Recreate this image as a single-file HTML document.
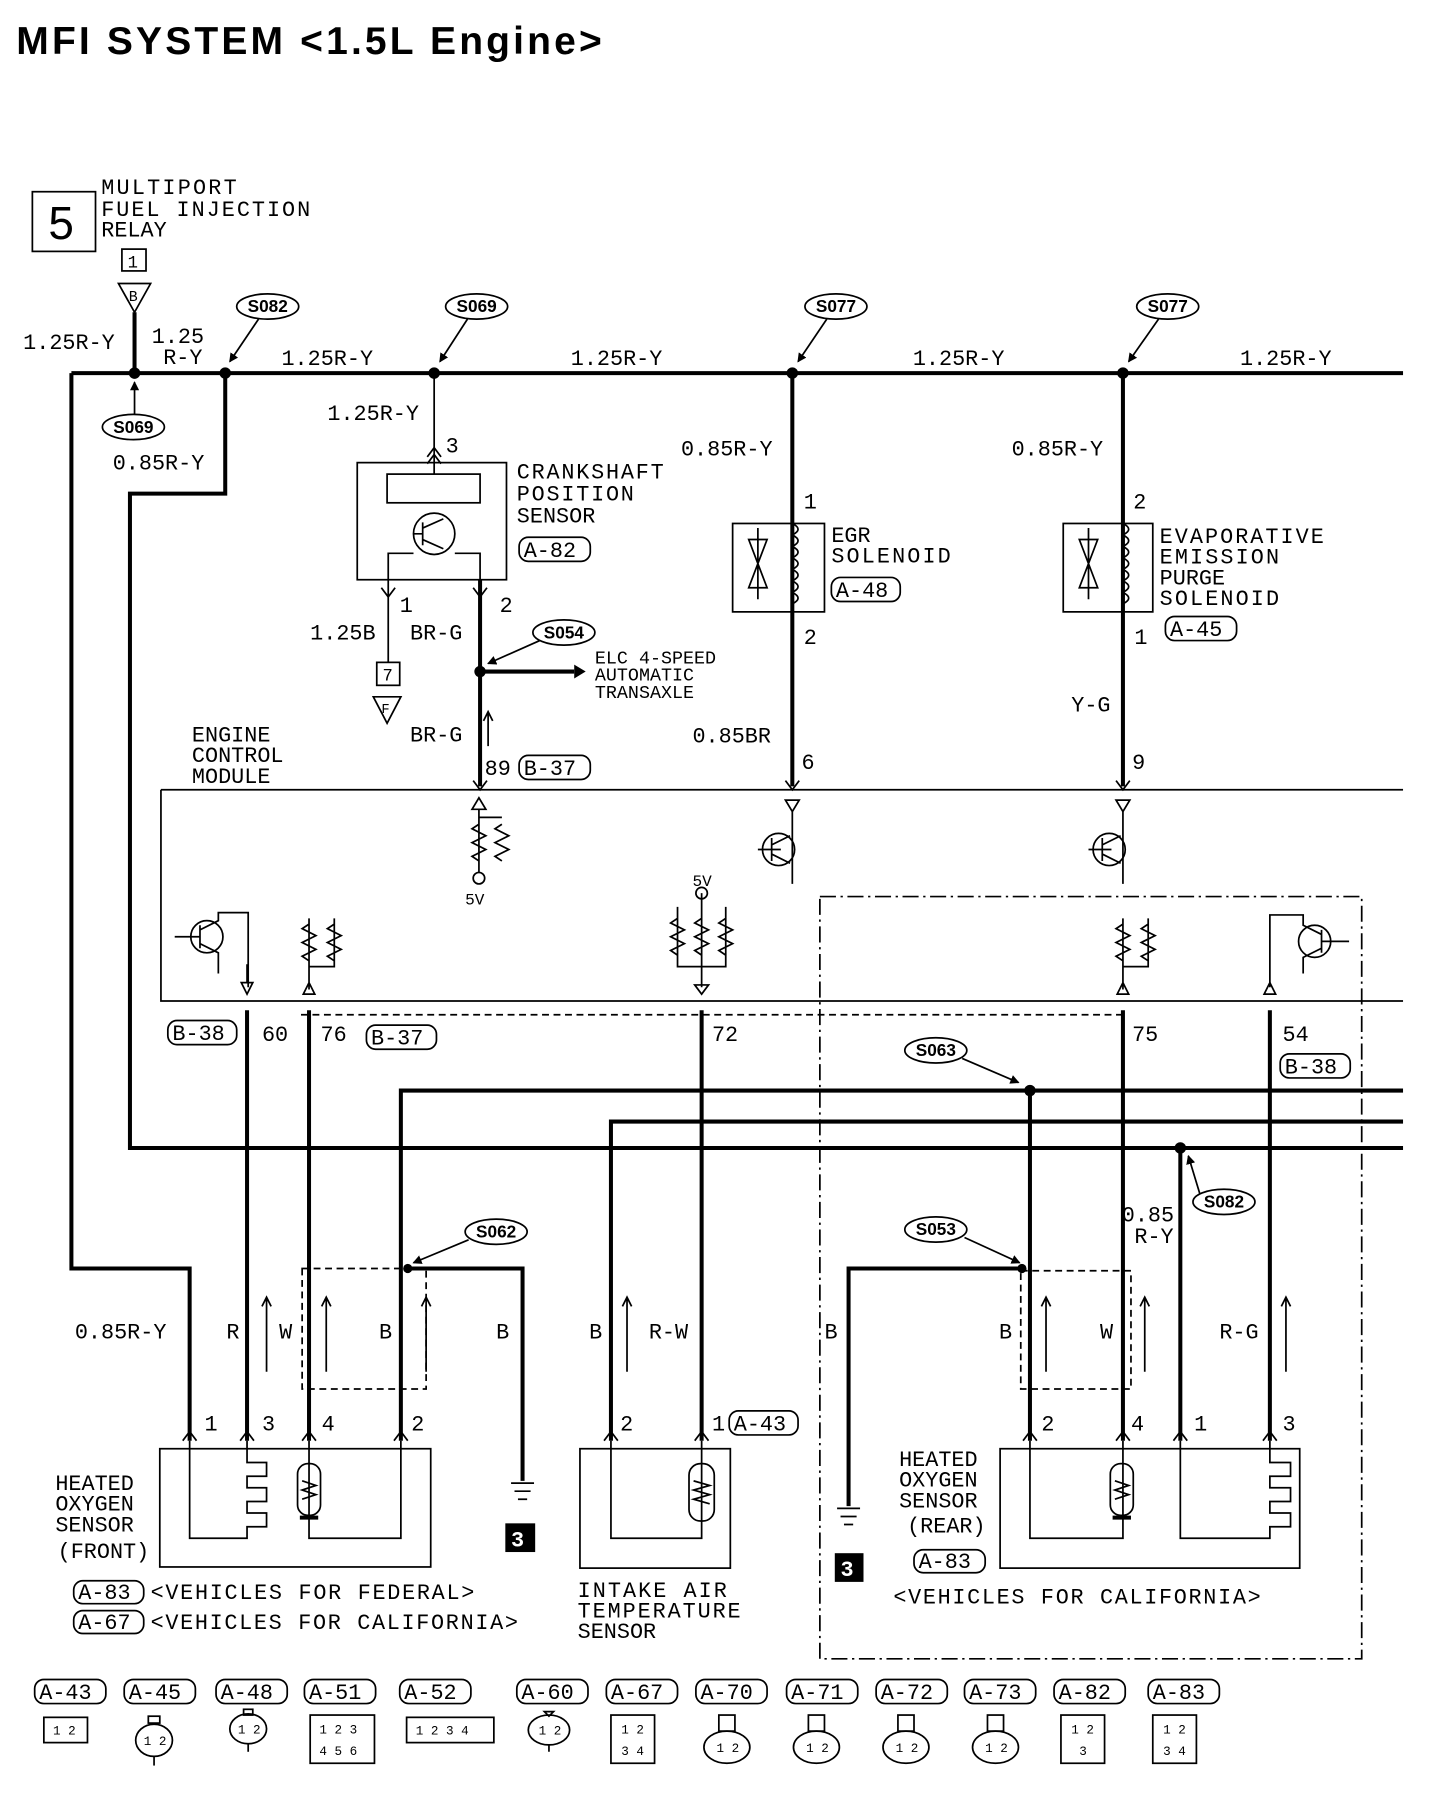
<!DOCTYPE html>
<html><head><meta charset="utf-8"><style>
html,body{margin:0;padding:0;background:#fff;}
svg{display:block}
text{font-family:"Liberation Mono",monospace;font-size:19px;fill:#000}
.t{font-family:"Liberation Sans",sans-serif;font-weight:bold;font-size:34px}
.th{stroke:#000;stroke-width:3.5;fill:none}
.tn{stroke:#000;stroke-width:1.5;fill:none}
.ds{stroke:#000;stroke-width:1.5;fill:none;stroke-dasharray:6 4}
.dd{stroke:#000;stroke-width:1.5;fill:none;stroke-dasharray:14 4 2 4}
.sp{font-family:"Liberation Sans",sans-serif;font-weight:bold;font-size:15px}
.pn text{font-size:11px}
</style></head><body>
<svg width="1440" height="1800" viewBox="0 0 1254 1568" xmlns="http://www.w3.org/2000/svg">
<defs><marker id="ah" markerWidth="8" markerHeight="8" refX="7" refY="4" orient="auto" markerUnits="userSpaceOnUse"><path d="M0 0 L8 4 L0 8 Z" fill="#000"/></marker></defs>
<text x="14" y="47" class="t" textLength="510" lengthAdjust="spacing">MFI SYSTEM &lt;1.5L Engine&gt;</text>
<rect x="28" y="167" width="55" height="52" class="tn" stroke-width="3"/>
<text x="42" y="208" style="font-size:40px;font-family:'Liberation Sans',sans-serif">5</text>
<text x="88" y="169" textLength="118">MULTIPORT</text><text x="88" y="188" textLength="182">FUEL INJECTION</text><text x="88" y="206">RELAY</text>
<rect x="106" y="217" width="21" height="19" class="tn" stroke-width="2"/><text x="111" y="233" style="font-size:15px">1</text>
<path d="M103 247 L131 247 L117 272 Z" class="tn" stroke-width="2"/><text x="112" y="262" style="font-size:13px">B</text>
<path d="M117 272 V325 M62 325 H1222 M62 325 V1105 H165 V1255" class="th"/>
<path d="M196 325 V430 H113 V1000 H1222 M349 1255 V950 H1222 M532 1255 V977 H1222" class="th"/>
<g fill="#000"><circle cx="117" cy="325" r="5"/><circle cx="196" cy="325" r="5"/><circle cx="378" cy="325" r="5"/><circle cx="690" cy="325" r="5"/><circle cx="978" cy="325" r="5"/><circle cx="418" cy="585" r="5"/><circle cx="897" cy="950" r="5"/><circle cx="1028" cy="1000" r="5"/><circle cx="355" cy="1105" r="4"/><circle cx="890" cy="1105" r="4"/></g>
<g>
<ellipse cx="233" cy="267" rx="27" ry="11" class="tn" stroke-width="2"/><text x="233" y="272" class="sp" text-anchor="middle">S082</text><path d="M225 278 L200 315" class="tn" marker-end="url(#ah)"/>
<ellipse cx="415" cy="267" rx="27" ry="11" class="tn" stroke-width="2"/><text x="415" y="272" class="sp" text-anchor="middle">S069</text><path d="M407 278 L383 315" class="tn" marker-end="url(#ah)"/>
<ellipse cx="728" cy="267" rx="27" ry="11" class="tn" stroke-width="2"/><text x="728" y="272" class="sp" text-anchor="middle">S077</text><path d="M720 278 L695 315" class="tn" marker-end="url(#ah)"/>
<ellipse cx="1017" cy="267" rx="27" ry="11" class="tn" stroke-width="2"/><text x="1017" y="272" class="sp" text-anchor="middle">S077</text><path d="M1009 278 L983 315" class="tn" marker-end="url(#ah)"/>
<ellipse cx="116" cy="372" rx="27" ry="11" class="tn" stroke-width="2"/><text x="116" y="377" class="sp" text-anchor="middle">S069</text><path d="M117 361 V333" class="tn" marker-end="url(#ah)"/>
<ellipse cx="491" cy="551" rx="27" ry="11" class="tn" stroke-width="2"/><text x="491" y="556" class="sp" text-anchor="middle">S054</text><path d="M470 558 L425 578" class="tn" marker-end="url(#ah)"/>
<ellipse cx="815" cy="915" rx="27" ry="11" class="tn" stroke-width="2"/><text x="815" y="920" class="sp" text-anchor="middle">S063</text><path d="M838 922 L887 943" class="tn" marker-end="url(#ah)"/>
<ellipse cx="1066" cy="1047" rx="27" ry="11" class="tn" stroke-width="2"/><text x="1066" y="1052" class="sp" text-anchor="middle">S082</text><path d="M1045 1040 L1035 1007" class="tn" marker-end="url(#ah)"/>
<ellipse cx="432" cy="1073" rx="27" ry="11" class="tn" stroke-width="2"/><text x="432" y="1078" class="sp" text-anchor="middle">S062</text><path d="M408 1080 L360 1100" class="tn" marker-end="url(#ah)"/>
<ellipse cx="815" cy="1071" rx="27" ry="11" class="tn" stroke-width="2"/><text x="815" y="1076" class="sp" text-anchor="middle">S053</text><path d="M840 1078 L888 1100" class="tn" marker-end="url(#ah)"/>
</g>
<text x="20" y="304">1.25R-Y</text><text x="132" y="299">1.25</text><text x="142" y="317">R-Y</text>
<text x="245" y="318">1.25R-Y</text><text x="497" y="318">1.25R-Y</text><text x="795" y="318">1.25R-Y</text><text x="1080" y="318">1.25R-Y</text>
<text x="98" y="409">0.85R-Y</text>
<path d="M378 325 V413" class="tn" stroke-width="2"/>
<text x="285" y="366">1.25R-Y</text><text x="388" y="394">3</text>
<path d="M372 398 L378 390 L384 398 M372 404 L378 396 L384 404" class="tn"/>
<rect x="311" y="403" width="130" height="102" class="tn"/>
<rect x="337" y="413" width="81" height="25" class="tn"/>
<circle cx="378" cy="465" r="18" class="tn"/>
<path d="M368 455 V475 M368 465 H360 M368 460 L386 452 M368 470 L386 478 M338 505 V482 H360 M418 505 V482 H396" class="tn"/>
<text x="450" y="417" textLength="128">CRANKSHAFT</text><text x="450" y="436" textLength="102">POSITION</text><text x="450" y="455">SENSOR</text>
<rect x="452" y="468" width="62" height="21" rx="8" class="tn"/><text x="456" y="485">A-82</text>
<path d="M338 505 V577" class="tn" stroke-width="2"/><path d="M418 505 V685 M418 585 H500" class="th"/>
<path d="M500 579 L510 585 L500 591 Z" fill="#000"/>
<path d="M332 512 L338 520 L344 512 M412 512 L418 520 L424 512" class="tn"/>
<text x="348" y="533">1</text><text x="435" y="533">2</text>
<text x="270" y="557">1.25B</text><text x="357" y="557">BR-G</text>
<rect x="328" y="577" width="20" height="20" class="tn" stroke-width="2"/><text x="333" y="593" style="font-size:15px">7</text>
<path d="M325 607 L349 607 L337 630 Z" class="tn" stroke-width="2"/><text x="332" y="621" style="font-size:12px">F</text>
<text x="518" y="578" style="font-size:16px">ELC 4-SPEED</text><text x="518" y="593" style="font-size:16px">AUTOMATIC</text><text x="518" y="608" style="font-size:16px">TRANSAXLE</text>
<text x="357" y="646">BR-G</text><path d="M425 650 V620 M421 628 L425 620 L429 628" class="tn"/>
<text x="422" y="675">89</text><rect x="452" y="658" width="62" height="21" rx="8" class="tn"/><text x="456" y="675">B-37</text>
<path d="M690 325 V685 M978 325 V685" class="th"/>
<text x="593" y="397">0.85R-Y</text><text x="700" y="443">1</text>
<rect x="638" y="456" width="80" height="77" class="tn" fill="#fff"/>
<path d="M690 456 q10 5 0 10 q10 5 0 10 q10 5 0 10 q10 5 0 10 q10 5 0 10 q10 5 0 10 q10 5 0 10 V533 M690 456 V533" class="tn"/>
<path d="M652 470 L668 470 L652 512 L668 512 Z M660 460 V522" class="tn"/>
<text x="724" y="472">EGR</text><text x="724" y="490" textLength="104">SOLENOID</text>
<rect x="724" y="503" width="60" height="21" rx="8" class="tn"/><text x="728" y="520">A-48</text>
<text x="700" y="561">2</text><text x="603" y="647">0.85BR</text><text x="698" y="670">6</text>
<text x="881" y="397">0.85R-Y</text><text x="987" y="443">2</text>
<rect x="926" y="456" width="78" height="77" class="tn" fill="#fff"/>
<path d="M978 456 q10 5 0 10 q10 5 0 10 q10 5 0 10 q10 5 0 10 q10 5 0 10 q10 5 0 10 q10 5 0 10" class="tn"/>
<path d="M940 470 L956 470 L940 512 L956 512 Z M948 460 V522" class="tn"/>
<text x="1010" y="473" textLength="143">EVAPORATIVE</text><text x="1010" y="491" textLength="104">EMISSION</text><text x="1010" y="509">PURGE</text><text x="1010" y="527" textLength="104">SOLENOID</text>
<rect x="1015" y="537" width="62" height="21" rx="8" class="tn"/><text x="1019" y="554">A-45</text>
<text x="988" y="561">1</text><text x="933" y="620">Y-G</text><text x="986" y="670">9</text>
<text x="167" y="646">ENGINE</text><text x="167" y="664">CONTROL</text><text x="167" y="682">MODULE</text>
<path d="M140 688 H1222 M140 688 V872 H1222" class="tn" stroke-width="2"/>
<path d="M262 884 H978" class="ds"/>
<path d="M714 781 H1186 V1445 H714 Z" class="dd"/>
<path d="M412 680 L418 688 L424 680 M684 680 L690 688 L696 680 M972 680 L978 688 L984 680" class="tn"/>
<g class="tn">
<path d="M411 705 L417 695 L423 705 Z M417 705 V760 M417 712 H437 M417 718 l-6 4 l12 6 l-12 6 l12 6 l-12 6 l6 4 M437 718 l-6 4 l12 6 l-12 6 l12 6 l-12 6 l6 4"/>
<circle cx="417" cy="765" r="5"/>
<path d="M684 697 L696 697 L690 707 Z M690 707 V770 M680 740 H660"/><circle cx="678" cy="740" r="14"/>
<path d="M672 730 V750 M672 736 L688 728 M672 744 L688 752"/>
<path d="M972 697 L984 697 L978 707 Z M978 707 V770 M968 740 H948"/><circle cx="966" cy="740" r="14"/>
<path d="M960 730 V750 M960 736 L976 728 M960 744 L976 752"/>
<path d="M611 778 V860 M590 790 V842 H632 V790 M590 800 l-6 4 l12 6 l-12 6 l12 6 l-12 6 l6 4 M611 800 l-6 4 l12 6 l-12 6 l12 6 l-12 6 l6 4 M632 800 l-6 4 l12 6 l-12 6 l12 6 l-12 6 l6 4 M605 858 L617 858 L611 866 Z"/>
<circle cx="611" cy="778" r="5"/>
<path d="M269 800 V862 M269 842 H291 V800 M269 805 l-6 4 l12 6 l-12 6 l12 6 l-12 6 l6 4 M291 805 l-6 4 l12 6 l-12 6 l12 6 l-12 6 l6 4 M264 866 L269 856 L274 866 Z"/>
<path d="M978 800 V862 M978 842 H1000 V800 M978 805 l-6 4 l12 6 l-12 6 l12 6 l-12 6 l6 4 M1000 805 l-6 4 l12 6 l-12 6 l12 6 l-12 6 l6 4 M973 866 L978 856 L983 866 Z"/>
<circle cx="180" cy="816" r="14"/><path d="M174 806 V826 M174 816 H152 M174 810 L190 802 V795 H216 V860 M174 822 L190 830 V848"/>
<path d="M215 866 L210 856 L220 856 Z M215 856 V840"/>
<circle cx="1145" cy="820" r="14"/><path d="M1151 810 V830 M1151 820 H1175 M1151 814 L1135 806 V797 H1106 V860 M1151 826 L1135 834 V848"/>
<path d="M1101 866 L1106 856 L1111 866 Z"/>
</g>
<text x="405" y="788" style="font-size:14px">5V</text><text x="603" y="772" style="font-size:14px">5V</text>
<path d="M215 880 V1255 M269 880 V1255 M611 880 V1255 M978 880 V1255 M1106 880 V1255 M897 950 V1255 M1028 1000 V1255" class="th"/>
<path d="M355 1105 H455 V1290 M890 1105 H739 V1312" class="th"/>
<rect x="146" y="889" width="60" height="21" rx="8" class="tn"/><text x="150" y="906">B-38</text>
<text x="228" y="907">60</text><text x="279" y="907">76</text>
<rect x="319" y="893" width="61" height="21" rx="8" class="tn"/><text x="323" y="910">B-37</text>
<text x="620" y="907">72</text><text x="986" y="907">75</text><text x="1117" y="907">54</text>
<rect x="1115" y="918" width="61" height="21" rx="8" class="tn"/><text x="1119" y="935">B-38</text>
<text x="977" y="1064">0.85</text><text x="988" y="1083">R-Y</text>
<path d="M263 1105 H371 V1210 H263 Z M889 1107 H985 V1210 H889 Z" class="ds"/>
<text x="65" y="1166">0.85R-Y</text><text x="197" y="1166">R</text><text x="243" y="1166">W</text><text x="330" y="1166">B</text><text x="432" y="1166">B</text>
<text x="513" y="1166">B</text><text x="565" y="1166">R-W</text><text x="718" y="1166">B</text><text x="870" y="1166">B</text><text x="958" y="1166">W</text><text x="1062" y="1166">R-G</text>
<path d="M232 1195 V1130 M284 1195 V1130 M371 1195 V1130 M546 1195 V1130 M911 1195 V1130 M997 1195 V1130 M1120 1195 V1130 M228 1138 L232 1130 L236 1138 M280 1138 L284 1130 L288 1138 M367 1138 L371 1130 L375 1138 M542 1138 L546 1130 L550 1138 M907 1138 L911 1130 L915 1138 M993 1138 L997 1130 L1001 1138 M1116 1138 L1120 1130 L1124 1138" class="tn"/>
<text x="178" y="1246">1</text><text x="228" y="1246">3</text><text x="280" y="1246">4</text><text x="358" y="1246">2</text>
<text x="540" y="1246">2</text><text x="620" y="1246">1</text><rect x="635" y="1229" width="60" height="21" rx="8" class="tn"/><text x="639" y="1246">A-43</text>
<text x="907" y="1246">2</text><text x="985" y="1246">4</text><text x="1040" y="1246">1</text><text x="1117" y="1246">3</text>
<rect x="139" y="1262" width="236" height="103" class="tn"/>
<path d="M165 1255 V1340 H215 V1330 H232 V1318 H215 V1308 H232 V1296 H215 V1286 H232 V1274 H215 V1255 M269 1255 V1340 H349 V1255" class="tn" stroke-width="2"/>
<rect x="259" y="1275" width="20" height="45" rx="9" class="tn" fill="#fff"/><path d="M263 1290 l12 4 l-12 4 l12 4 l-12 4" class="tn"/><path d="M261 1322 H277" class="th"/>
<text x="48" y="1298">HEATED</text><text x="48" y="1316">OXYGEN</text><text x="48" y="1334">SENSOR</text><text x="50" y="1357">(FRONT)</text>
<rect x="64" y="1377" width="61" height="20" rx="8" class="tn"/><text x="68" y="1393">A-83</text><text x="131" y="1393" textLength="282">&lt;VEHICLES FOR FEDERAL&gt;</text>
<rect x="64" y="1403" width="61" height="20" rx="8" class="tn"/><text x="68" y="1419">A-67</text><text x="131" y="1419" textLength="320">&lt;VEHICLES FOR CALIFORNIA&gt;</text>
<path d="M445 1292 H465 M448 1299 H462 M451 1306 H459" class="tn"/>
<rect x="440" y="1327" width="26" height="25" fill="#000"/><text x="445" y="1347" style="fill:#fff;font-weight:bold">3</text>
<rect x="505" y="1262" width="131" height="104" class="tn"/>
<path d="M532 1255 V1340 H611 V1255" class="tn" stroke-width="2"/>
<rect x="600" y="1275" width="22" height="50" rx="10" class="tn" fill="#fff"/><path d="M604 1290 l14 4 l-14 4 l14 4 l-14 4 l14 4" class="tn"/>
<text x="503" y="1391" textLength="130">INTAKE AIR</text><text x="503" y="1409" textLength="142">TEMPERATURE</text><text x="503" y="1427">SENSOR</text>
<path d="M729 1314 H749 M732 1321 H746 M735 1328 H743" class="tn"/>
<rect x="727" y="1353" width="25" height="25" fill="#000"/><text x="732" y="1373" style="fill:#fff;font-weight:bold">3</text>
<rect x="871" y="1262" width="261" height="104" class="tn"/>
<path d="M897 1255 V1340 H978 V1255 M1028 1255 V1340 H1106 V1330 H1124 V1318 H1106 V1308 H1124 V1296 H1106 V1286 H1124 V1274 H1106 V1255" class="tn" stroke-width="2"/>
<rect x="967" y="1275" width="20" height="45" rx="9" class="tn" fill="#fff"/><path d="M971 1290 l12 4 l-12 4 l12 4 l-12 4" class="tn"/><path d="M969 1322 H985" class="th"/>
<text x="783" y="1277">HEATED</text><text x="783" y="1295">OXYGEN</text><text x="783" y="1313">SENSOR</text><text x="790" y="1335">(REAR)</text>
<rect x="796" y="1350" width="62" height="20" rx="8" class="tn"/><text x="800" y="1366">A-83</text>
<text x="778" y="1397" textLength="320">&lt;VEHICLES FOR CALIFORNIA&gt;</text>
<path d="M159 1255 L165 1247 L171 1255 M209 1255 L215 1247 L221 1255 M263 1255 L269 1247 L275 1255 M343 1255 L349 1247 L355 1255 M526 1255 L532 1247 L538 1255 M605 1255 L611 1247 L617 1255 M891 1255 L897 1247 L903 1255 M972 1255 L978 1247 L984 1255 M1022 1255 L1028 1247 L1034 1255 M1100 1255 L1106 1247 L1112 1255" class="tn"/>
<g>
<rect x="30" y="1463" width="62" height="21" rx="8" class="tn"/><text x="34" y="1480">A-43</text>
<rect x="108" y="1463" width="62" height="21" rx="8" class="tn"/><text x="112" y="1480">A-45</text>
<rect x="188" y="1463" width="62" height="21" rx="8" class="tn"/><text x="192" y="1480">A-48</text>
<rect x="265" y="1463" width="62" height="21" rx="8" class="tn"/><text x="269" y="1480">A-51</text>
<rect x="348" y="1463" width="62" height="21" rx="8" class="tn"/><text x="352" y="1480">A-52</text>
<rect x="450" y="1463" width="62" height="21" rx="8" class="tn"/><text x="454" y="1480">A-60</text>
<rect x="528" y="1463" width="62" height="21" rx="8" class="tn"/><text x="532" y="1480">A-67</text>
<rect x="606" y="1463" width="62" height="21" rx="8" class="tn"/><text x="610" y="1480">A-70</text>
<rect x="685" y="1463" width="62" height="21" rx="8" class="tn"/><text x="689" y="1480">A-71</text>
<rect x="763" y="1463" width="62" height="21" rx="8" class="tn"/><text x="767" y="1480">A-72</text>
<rect x="840" y="1463" width="62" height="21" rx="8" class="tn"/><text x="844" y="1480">A-73</text>
<rect x="918" y="1463" width="62" height="21" rx="8" class="tn"/><text x="922" y="1480">A-82</text>
<rect x="1000" y="1463" width="62" height="21" rx="8" class="tn"/><text x="1004" y="1480">A-83</text>
</g>
<g class="tn" stroke-width="2">
<rect x="38" y="1496" width="38" height="22"/>
<ellipse cx="134" cy="1516" rx="16" ry="14"/><rect x="129" y="1495" width="10" height="6"/><path d="M134 1530 V1538"/>
<ellipse cx="216" cy="1506" rx="16" ry="13"/><rect x="212" y="1489" width="8" height="5"/><path d="M216 1519 V1526"/>
<rect x="270" y="1494" width="56" height="42"/>
<rect x="354" y="1496" width="76" height="22"/>
<ellipse cx="478" cy="1507" rx="18" ry="13"/><path d="M474 1491 L482 1491 L478 1495 Z M478 1520 V1526"/>
<rect x="532" y="1494" width="38" height="42"/>
<rect x="626" y="1494" width="14" height="14"/><ellipse cx="633" cy="1522" rx="20" ry="14"/>
<rect x="704" y="1494" width="14" height="14"/><ellipse cx="711" cy="1522" rx="20" ry="14"/>
<rect x="782" y="1494" width="14" height="14"/><ellipse cx="789" cy="1522" rx="20" ry="14"/>
<rect x="860" y="1494" width="14" height="14"/><ellipse cx="867" cy="1522" rx="20" ry="14"/>
<rect x="924" y="1494" width="38" height="42"/>
<rect x="1004" y="1494" width="38" height="42"/>
</g>
<g class="pn">
<text x="46" y="1511">1 2</text><text x="125" y="1520">1 2</text><text x="207" y="1510">1 2</text>
<text x="278" y="1510">1 2 3</text><text x="278" y="1529">4 5 6</text><text x="362" y="1511">1 2 3 4</text>
<text x="469" y="1511">1 2</text><text x="541" y="1510">1 2</text><text x="541" y="1529">3 4</text>
<text x="624" y="1526">1 2</text><text x="702" y="1526">1 2</text><text x="780" y="1526">1 2</text><text x="858" y="1526">1 2</text>
<text x="933" y="1510">1 2</text><text x="940" y="1529">3</text><text x="1013" y="1510">1 2</text><text x="1013" y="1529">3 4</text>
</g>
</svg>
</body></html>
